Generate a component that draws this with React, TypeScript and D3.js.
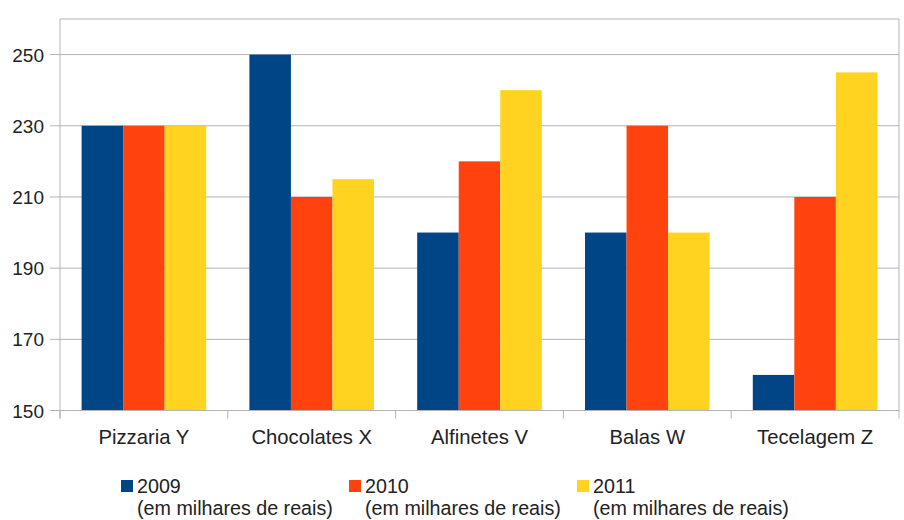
import React from "react";
import * as d3 from "d3";

const categories = ["Pizzaria Y", "Chocolates X", "Alfinetes V", "Balas W", "Tecelagem Z"];
const seriesNames = ["2009", "2010", "2011"];
const seriesSub = "(em milhares de reais)";
const values2009 = [230, 250, 200, 200, 160];
const values2010 = [230, 210, 220, 230, 210];
const values2011 = [230, 215, 240, 200, 245];
const yTicks = [150, 170, 190, 210, 230, 250];
const colors = ["#004586", "#ff420e", "#ffd320"];

const W = 904, H = 520;
const M = { left: 60, right: 5, top: 19, bottom: 110 };
const FONT = "'Liberation Sans', Arial, sans-serif";

export default function App() {
  const series = [values2009, values2010, values2011];
  const x0 = d3.scaleBand().domain(categories).range([M.left, W - M.right]).paddingInner(0).paddingOuter(0);
  const inner = d3.scaleBand().domain(seriesNames).range([0, x0.bandwidth()]).paddingInner(0).paddingOuter(0.52);
  const y = d3.scaleLinear().domain([150, 260]).range([H - M.bottom + 0.5, M.top]);
  const grid = "#b3b3b3";
  const x1 = M.left, x2 = W - M.right;
  const yb = y(150);
  const legendItemW = 228;
  const legendX0 = 121;
  return (
    <svg width={W} height={H} style={{ position: "absolute", left: 0, top: 0 }} fontFamily={FONT}>
      <rect x={0} y={0} width={W} height={H} fill="#fff" />
      {[...yTicks, 260].map((t) => (
        <line key={t} x1={t === 260 ? x1 : x1 - 10} x2={x2} y1={y(t)} y2={y(t)} stroke={grid} strokeWidth={1} />
      ))}
      {categories.map((c, i) =>
        series.map((s, j) => (
          <rect
            key={c + j}
            x={x0(c)! + inner(seriesNames[j])!}
            y={y(s[i])}
            width={inner.bandwidth()}
            height={yb - y(s[i])}
            fill={colors[j]}
          />
        ))
      )}
      <line x1={x1} x2={x1} y1={y(260)} y2={yb + 8} stroke={grid} />
      <line x1={x2} x2={x2} y1={y(260)} y2={yb + 8} stroke={grid} />
      <line x1={x1 - 10} x2={x2} y1={yb} y2={yb} stroke={grid} />
      {categories.map((c) => (
        <line key={"t" + c} x1={x0(c)!} x2={x0(c)!} y1={yb} y2={yb + 8} stroke={grid} />
      ))}
      {yTicks.map((t) => (
        <text key={"l" + t} x={44} y={y(t) + 7} textAnchor="end" fontSize={19} fill="#222">
          {t}
        </text>
      ))}
      {categories.map((c) => (
        <text key={"c" + c} x={x0(c)! + x0.bandwidth() / 2} y={444} textAnchor="middle" fontSize={20.3} fill="#222">
          {c}
        </text>
      ))}
      {seriesNames.map((n, j) => {
        const lx = legendX0 + j * legendItemW;
        return (
          <g key={"lg" + n}>
            <rect x={lx} y={480} width={12} height={12} fill={colors[j]} />
            <text x={lx + 16} y={493} fontSize={19.7} fill="#222">{n}</text>
            <text x={lx + 16} y={515} fontSize={19.7} fill="#222">{seriesSub}</text>
          </g>
        );
      })}
    </svg>
  );
}
